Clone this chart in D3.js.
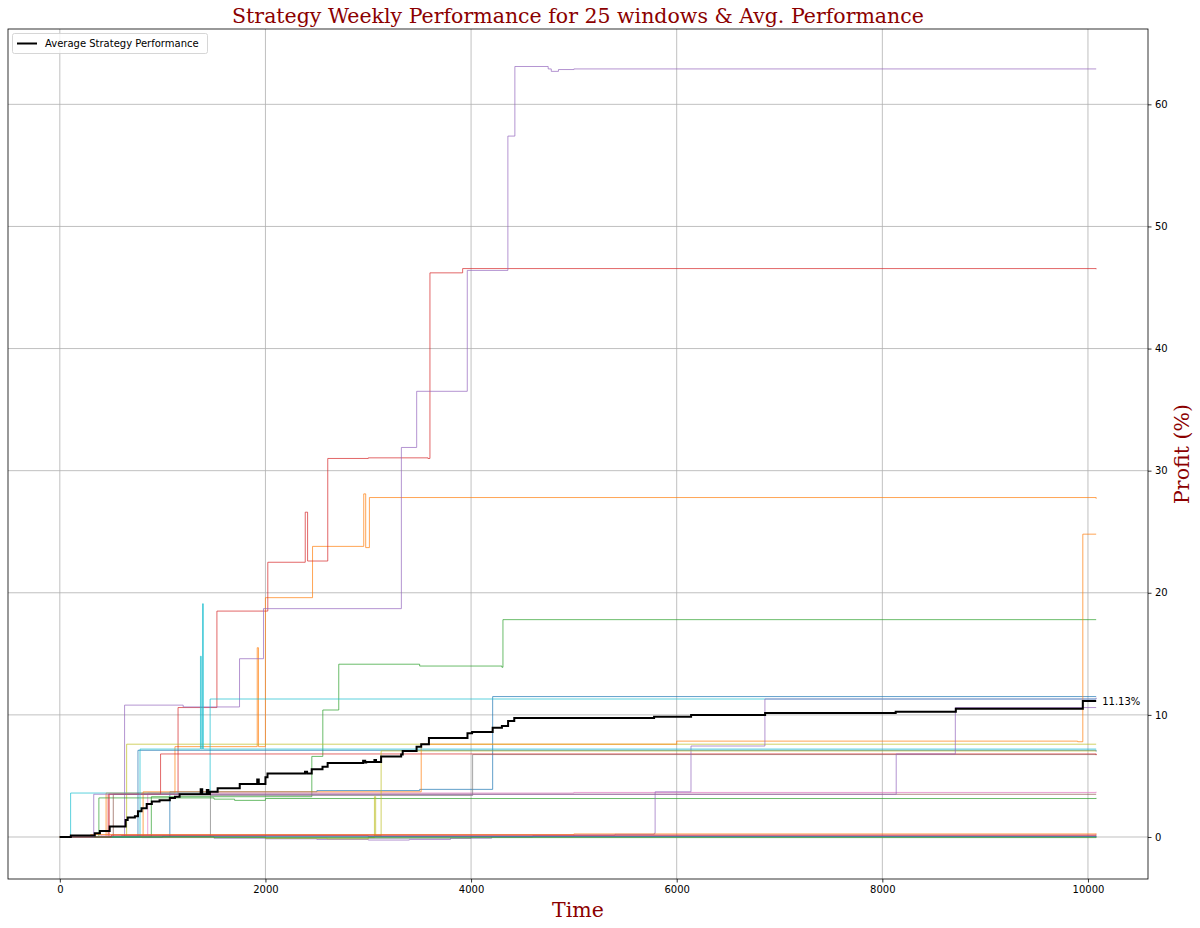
<!DOCTYPE html>
<html><head><meta charset="utf-8">
<script src="https://cdn.jsdelivr.net/npm/d3@7"></script>
<style>body{margin:0;background:#fff}</style>
</head><body><svg id="c" width="1200" height="928"></svg>
<script>
// ---- data (x = minutes into the week, y = profit %) ----
const xTicks = [0, 2000, 4000, 6000, 8000, 10000];
const yTicks = [0, 10, 20, 30, 40, 50, 60];
const titleText = "Strategy Weekly Performance for 25 windows & Avg. Performance";
const legendLabel = "Average Strategy Performance";
const finalLabel = "11.13%";

const w01 = [[0,0],[1070,3.7],[2500,3.8],[3500,3.9],[4210,11.5],[10080,11.5]];
const w02 = [[0,0],[450,3.6],[1120,7.4],[1920,15.5],[1932,7.4],[2000,19.6],[2458,23.8],[2956,28.1],[2975,23.7],[3011,27.8],[10080,27.7]];
const w03 = [[0,0],[890,3.3],[2451,6.6],[2558,10.4],[2713,14.15],[3500,14.0],[4300,13.9],[4310,17.8],[10080,17.8]];
const w04 = [[0,0],[470,3.5],[1150,10.6],[1528,18.5],[2023,22.5],[2387,26.6],[2410,22.6],[2606,31.0],[3000,31.05],[3581,31.0],[3600,46.2],[3918,46.55],[10080,46.5]];
const w05 = [[0,0],[630,10.8],[1200,10.65],[1748,14.6],[1981,18.7],[3322,31.9],[3471,36.5],[3963,46.4],[4358,57.4],[4426,63.1],[4750,62.9],[4780,62.7],[4850,62.85],[5000,62.9],[10080,62.9]];
const w06 = [[0,0],[600,0.1],[3000,0.05],[10080,0.05]];
const w07 = [[0,0],[855,3.6],[5000,3.65],[10080,3.7]];
const w08 = [[0,0],[1465,3.4],[4015,6.75],[10080,6.8]];
const w09 = [[0,0],[650,7.6],[10080,7.6]];
const w10 = [[0,0],[105,3.6],[1462,11.3],[10080,11.3]];
const w11 = [[0,0],[760,7.1],[10080,7.0]];
const w12 = [[0,0],[810,3.7],[3515,7.6],[6000,7.85],[9500,7.85],[9900,7.8],[9950,24.8],[10080,24.8]];
const w13 = [[0,0],[380,3.2],[1500,3.1],[1700,3.0],[2000,3.15],[10080,3.2]];
const w14 = [[0,0],[480,3.5],[980,6.8],[10080,6.7]];
const w15 = [[0,0],[800,-0.05],[1500,-0.1],[2000,-0.15],[2500,-0.2],[3000,-0.25],[3400,-0.2],[3800,-0.1],[4200,0.0],[4600,0.1],[5000,0.15],[5400,0.22],[5782,0.3],[5790,3.7],[6139,7.45],[6858,11.3],[10080,11.4]];
const w16 = [[0,0],[520,3.5],[10080,3.5]];
const w17 = [[0,0],[400,0.15],[10080,0.15]];
const w18 = [[0,0],[2000,-0.1],[4000,0.0],[10080,0.05]];
const w19 = [[0,0],[2000,-0.1],[2600,-0.15],[3000,-0.05],[3060,3.3],[3072,0.1],[3125,7.05],[10080,7.05]];
const w20 = [[0,0],[780,7.2],[1368,14.8],[1376,7.2],[1388,19.1],[1396,7.2],[10080,7.2]];
const w21 = [[0,0],[1000,0.05],[10080,0.1]];
const w22 = [[0,0],[300,0.2],[5000,0.25],[10080,0.28]];
const w23 = [[0,0],[1500,-0.05],[10080,0.0]];
const w24 = [[0,0],[500,0.15],[10080,0.2]];
const w25 = [[0,0],[330,3.5],[8127,3.5],[8135,6.8],[8710,10.6],[10080,10.6]];

const avgPerf = [[0,0],[107,0.12],[340,0.3],[390,0.5],[485,0.85],[640,1.4],[660,1.6],[730,1.7],[760,2.1],[795,2.35],[845,2.7],[895,2.9],[970,3.0],[1070,3.2],[1120,3.3],[1165,3.5],[1370,3.9],[1385,3.5],[1430,3.85],[1445,3.5],[1460,3.7],[1535,4.0],[1750,4.35],[1920,4.7],[1935,4.35],[2000,4.9],[2020,5.2],[2385,5.35],[2405,5.2],[2450,5.55],[2555,5.75],[2605,6.05],[2950,6.25],[2970,6.1],[2980,6.15],[3060,6.3],[3075,6.15],[3125,6.6],[3320,6.75],[3335,7.05],[3470,7.4],[3515,7.6],[3590,8.1],[3965,8.5],[4010,8.6],[4210,8.95],[4300,9.1],[4360,9.5],[4420,9.75],[5780,9.85],[6140,10.0],[6860,10.15],[8130,10.25],[8715,10.5],[9950,11.13],[10080,11.13]];

const windows = [w01,w02,w03,w04,w05,w06,w07,w08,w09,w10,w11,w12,w13,w14,w15,w16,w17,w18,w19,w20,w21,w22,w23,w24,w25];
const palette = ["#1f77b4","#ff7f0e","#2ca02c","#d62728","#9467bd","#8c564b","#e377c2","#7f7f7f","#bcbd22","#17becf"];

// ---- layout ----
const L = 8, R = 1148, T = 29, B = 879;
const svg = d3.select("#c");
const x = d3.scaleLinear().domain([-504, 10584]).range([L, R]);
const y = d3.scaleLinear().domain([-3.44, 66.17]).range([B, T]);

svg.append("defs").append("clipPath").attr("id","clip")
  .append("rect").attr("x",L).attr("y",T).attr("width",R-L).attr("height",B-T);

// grid
const grid = svg.append("g");
grid.selectAll(".gx").data(xTicks).enter().append("line")
  .attr("x1",d=>x(d)).attr("x2",d=>x(d)).attr("y1",T).attr("y2",B)
  .attr("stroke","#b0b0b0").attr("stroke-width",0.8);
grid.selectAll(".gy").data(yTicks).enter().append("line")
  .attr("x1",L).attr("x2",R).attr("y1",d=>y(d)).attr("y2",d=>y(d))
  .attr("stroke","#b0b0b0").attr("stroke-width",0.8);

const line = d3.line().x(d=>x(d[0])).y(d=>y(d[1])).curve(d3.curveStepAfter);
const plot = svg.append("g").attr("clip-path","url(#clip)");
windows.forEach((w,i)=>{
  plot.append("path").datum(w).attr("d",line)
    .attr("fill","none").attr("stroke",palette[i%10])
    .attr("stroke-width",1).attr("stroke-opacity",0.7);
});
plot.append("path").datum(avgPerf).attr("d",line)
  .attr("fill","none").attr("stroke","#000").attr("stroke-width",2);

// final label
const last = avgPerf[avgPerf.length-1];
svg.append("text").attr("x",x(last[0])+6).attr("y",y(last[1])+4)
  .attr("font-family","DejaVu Sans").attr("font-size",10).attr("fill","#000")
  .text(finalLabel);

// spines
svg.append("rect").attr("x",L).attr("y",T).attr("width",R-L).attr("height",B-T)
  .attr("fill","none").attr("stroke","#000").attr("stroke-width",0.8);

// axes
const xa = svg.append("g").attr("transform",`translate(0,${B})`)
  .call(d3.axisBottom(x).tickValues(xTicks).tickFormat(d3.format("d")).tickSize(3.5).tickPadding(3.5));
const ya = svg.append("g").attr("transform",`translate(${R},0)`)
  .call(d3.axisRight(y).tickValues(yTicks).tickFormat(d3.format("d")).tickSize(3.5).tickPadding(3.5));
[xa,ya].forEach(a=>{
  a.select(".domain").remove();
  a.selectAll("text").attr("font-family","DejaVu Sans").attr("font-size",10).attr("fill","#000");
  a.selectAll("line").attr("stroke","#000").attr("stroke-width",0.8);
});

// titles
svg.append("text").attr("x",(L+R)/2).attr("y",23).attr("text-anchor","middle")
  .attr("font-family","DejaVu Serif").attr("font-size",20.5).attr("fill","#8b0000").text(titleText);
svg.append("text").attr("x",(L+R)/2).attr("y",917).attr("text-anchor","middle")
  .attr("font-family","DejaVu Serif").attr("font-size",20.5).attr("fill","#8b0000").text("Time");
svg.append("text").attr("transform",`translate(1189,${(T+B)/2}) rotate(-90)`).attr("text-anchor","middle")
  .attr("font-family","DejaVu Serif").attr("font-size",20.5).attr("fill","#8b0000").text("Profit (%)");

// legend
const lg = svg.append("g");
lg.append("rect").attr("x",12.5).attr("y",33.5).attr("width",195).attr("height",20).attr("rx",2)
  .attr("fill","#fff").attr("fill-opacity",0.8).attr("stroke","#ccc").attr("stroke-width",0.8);
lg.append("line").attr("x1",17).attr("x2",37).attr("y1",43.5).attr("y2",43.5)
  .attr("stroke","#000").attr("stroke-width",2);
lg.append("text").attr("x",45).attr("y",47).attr("font-family","DejaVu Sans").attr("font-size",10)
  .attr("fill","#000").text(legendLabel);
</script></body></html>
